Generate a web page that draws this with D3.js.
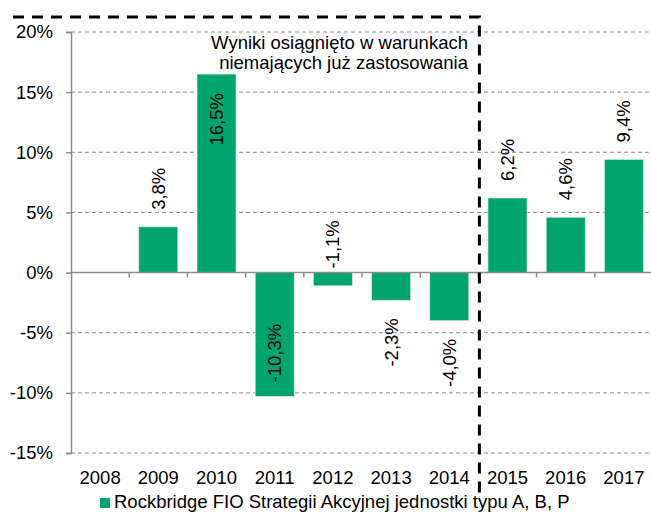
<!DOCTYPE html>
<html>
<head>
<meta charset="utf-8">
<script src="https://cdn.jsdelivr.net/npm/d3@7"></script>
<style>
  body { margin: 0; background: #fff; }
  svg text { font-family: "Liberation Sans", Arial, sans-serif; fill: #000; }
</style>
</head>
<body>
<div id="chart"></div>
<script>
var svgWidth = 651;
var svgHeight = 513;
var margin = ({top: 32, right: 0, bottom: 60, left: 71});

// data
var years = ["2008", "2009", "2010", "2011", "2012", "2013", "2014", "2015", "2016", "2017"];
var returns = [null, 3.8, 16.5, -10.3, -1.1, -2.3, -4.0, 6.2, 4.6, 9.4];
var yTicks = [-15, -10, -5, 0, 5, 10, 15, 20];
var seriesName = "Rockbridge FIO Strategii Akcyjnej jednostki typu A, B, P";
var noteLines = ["Wyniki osiągnięto w warunkach", "niemających już zastosowania"];
var splitYear = "2015";

var green = "#00a56e";
var fs = "18.5px";
var pl = d3.formatLocale({decimal: ",", thousands: " ", grouping: [3], currency: ["", " zł"], minus: "-"});
var fmt = pl.format(".1f");

var data = years.map((d, i) => ({year: d, value: returns[i]}));

var x = d3.scaleBand()
    .domain(years)
    .range([margin.left, 653])
    .paddingInner(0.33)
    .paddingOuter(0.165);
var y = d3.scaleLinear()
    .domain([-15, 20])
    .range([453, margin.top]);

var svg = d3.select("#chart").append("svg")
    .attr("width", svgWidth)
    .attr("height", svgHeight);

// gridlines
svg.append("g").attr("class", "grid")
    .selectAll("line")
    .data(yTicks.filter(d => d !== 0))
    .enter().append("line")
    .attr("x1", margin.left)
    .attr("x2", svgWidth)
    .attr("y1", d => y(d))
    .attr("y2", d => y(d))
    .attr("stroke", "#8c8c8c")
    .attr("stroke-width", 1)
    .attr("stroke-dasharray", "4,3");

// y axis
var yaxis = svg.append("g")
    .attr("transform", "translate(" + margin.left + ",0)")
    .call(d3.axisLeft(y)
        .tickValues(yTicks)
        .tickSize(5)
        .tickPadding(13)
        .tickFormat(d => d + "%"));
yaxis.select(".domain").attr("stroke", "#8c8c8c").attr("stroke-width", 1.5);
yaxis.selectAll(".tick line").attr("stroke", "#8c8c8c").attr("stroke-width", 1.5);
yaxis.selectAll("text").style("font-size", fs).attr("fill", "#000");

// bars
svg.append("g").selectAll(".bar")
    .data(data.filter(d => d.value !== null))
    .enter().append("rect")
    .attr("class", "bar")
    .attr("x", d => x(d.year))
    .attr("width", x.bandwidth())
    .attr("y", d => y(Math.max(0, d.value)))
    .attr("height", d => Math.abs(y(d.value) - y(0)))
    .attr("fill", green)
    .attr("stroke", "#d6efe3")
    .attr("stroke-width", 0.6);

// zero line with category ticks
var step = x.step();
var zeroG = svg.append("g");
zeroG.append("line")
    .attr("x1", margin.left).attr("x2", svgWidth)
    .attr("y1", y(0)).attr("y2", y(0))
    .attr("stroke", "#8c8c8c").attr("stroke-width", 1.5);
zeroG.selectAll(".ctick")
    .data(years.slice(1))
    .enter().append("line")
    .attr("x1", d => x(d) - step * 0.165)
    .attr("x2", d => x(d) - step * 0.165)
    .attr("y1", y(0)).attr("y2", y(0) + 5)
    .attr("stroke", "#8c8c8c").attr("stroke-width", 1.5);

// x labels
svg.append("g").selectAll(".xlab")
    .data(years)
    .enter().append("text")
    .attr("x", d => x(d) + x.bandwidth() / 2)
    .attr("y", 484)
    .attr("text-anchor", "middle")
    .style("font-size", fs)
    .text(d => d);

// data labels (rotated)
var labG = svg.append("g");
data.filter(d => d.value !== null).forEach(function (d) {
    var txt = fmt(d.value) + "%";
    var cx = x(d.year) + x.bandwidth() / 2;
    var yEnd = y(d.value);
    var t = labG.append("text")
        .attr("dy", "0.35em")
        .style("font-size", fs)
        .text(txt);
    var len = t.node().getComputedTextLength();
    var anchor, yy;
    if (d.value > 0) {
        if (yEnd - 17 - len < margin.top) { anchor = "end"; yy = yEnd + 19; }
        else { anchor = "start"; yy = yEnd - 17; }
    } else if (d.value > -2) {
        anchor = "start"; yy = y(0) - 4;
    } else {
        if (yEnd + 18 + len > y(-15)) { anchor = "start"; yy = yEnd - 14; }
        else { anchor = "end"; yy = yEnd + 18; }
    }
    t.attr("transform", "translate(" + cx + "," + yy + ") rotate(-90)")
        .attr("text-anchor", anchor);
});

// dashed frame for historic period
var splitX = x(splitYear) - step * 0.165 + 1;
svg.append("path")
    .attr("d", "M13,17H" + splitX + "V500")
    .attr("fill", "none")
    .attr("stroke", "#000")
    .attr("stroke-width", 3)
    .attr("stroke-dasharray", "11,8");

// note
svg.append("g").selectAll(".note")
    .data(noteLines)
    .enter().append("text")
    .attr("x", 468)
    .attr("y", (d, i) => 49 + i * 20)
    .attr("text-anchor", "end")
    .style("font-size", fs)
    .text(d => d);

// legend
var leg = svg.append("g").attr("transform", "translate(100,498)");
leg.append("rect").attr("width", 10).attr("height", 10).attr("fill", green);
leg.append("text").attr("x", 14).attr("y", 10)
    .style("font-size", fs)
    .text(seriesName);
</script>
</body>
</html>
